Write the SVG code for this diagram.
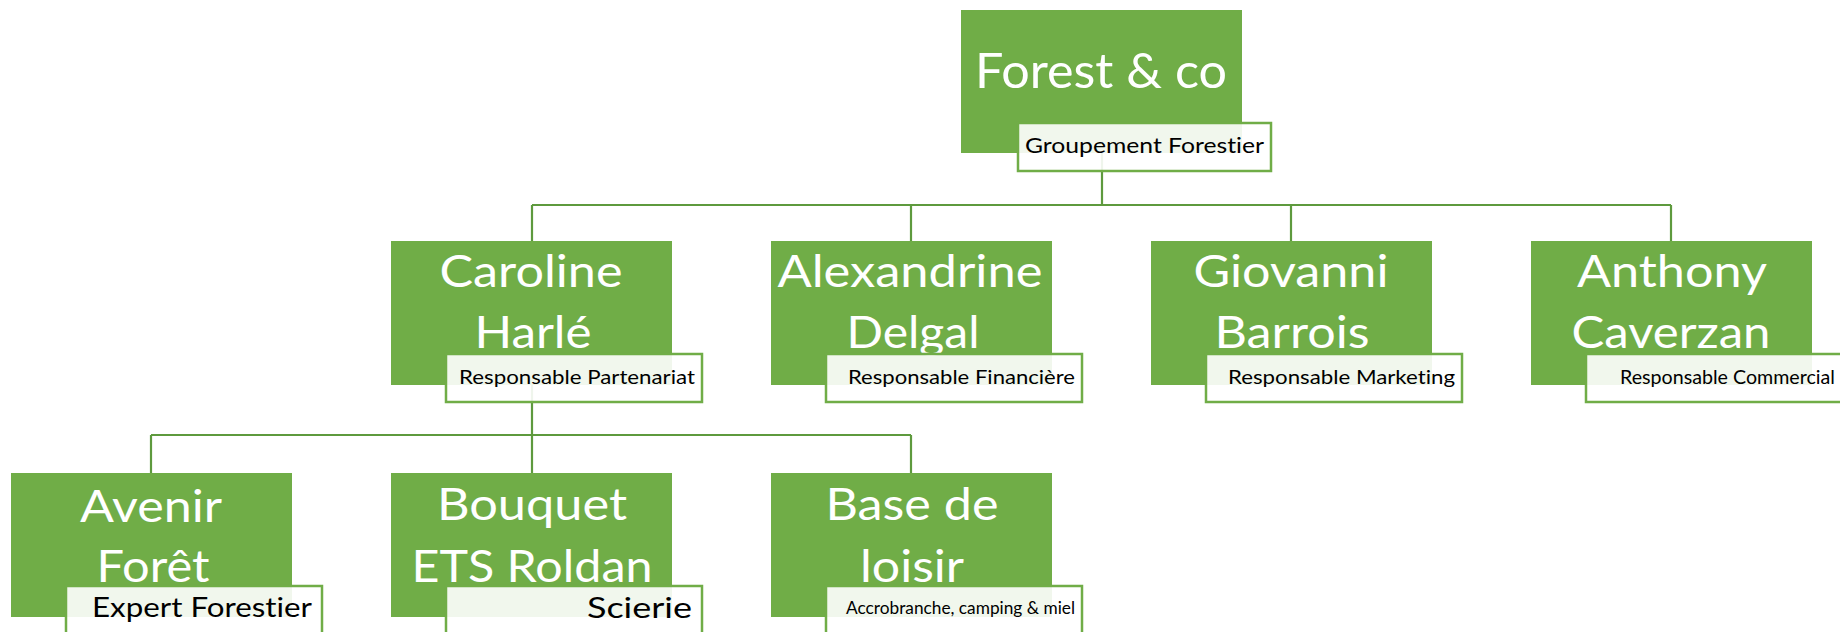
<svg xmlns="http://www.w3.org/2000/svg" width="1840" height="632" viewBox="0 0 1840 632">
<style>
.box{fill:#70AD47;}
.sub{fill:#FFFFFF;fill-opacity:0.9;stroke:#70AD47;stroke-width:2.5;}
.name{font-family:Lato,"Liberation Sans",sans-serif;fill:#FFFFFF;font-size:45px;text-anchor:middle;font-variant-ligatures:none;}
.top{font-size:49px;}
.role{font-family:Lato,"Liberation Sans",sans-serif;fill:#000000;font-size:20px;font-variant-ligatures:none;}
.conn{fill:none;stroke:#5E9A3E;stroke-width:2.2;}
</style>
<rect width="1840" height="632" fill="#FFFFFF"/>
<g id="connectors">
<path class="conn" d="M1102,153 V205 M532,205 H1671 M532,205 V241 M911,205 V241 M1291,205 V241 M1671,205 V241"/>
<path class="conn" d="M532,385 V435 M151,435 H911 M151,435 V473 M532,435 V473 M911,435 V473"/>
</g>
<g id="forest">
<rect class="box" x="961" y="10" width="281" height="143"/>
<text class="name top" x="1101" y="88" textLength="252" lengthAdjust="spacingAndGlyphs">Forest &amp; co</text>
<rect class="sub" x="1018" y="123" width="253" height="48"/>
<text class="role" x="1025" y="153" style="font-size:21px" textLength="239" lengthAdjust="spacingAndGlyphs">Groupement Forestier</text>
</g>
<g id="caroline">
<rect class="box" x="391" y="241" width="281" height="144"/>
<text class="name" x="531" y="287" textLength="183" lengthAdjust="spacingAndGlyphs">Caroline</text>
<text class="name" x="533" y="348" textLength="117" lengthAdjust="spacingAndGlyphs">Harlé</text>
<rect class="sub" x="446" y="354" width="256" height="48"/>
<text class="role" x="459" y="384" textLength="236" lengthAdjust="spacingAndGlyphs">Responsable Partenariat</text>
</g>
<g id="alexandrine">
<rect class="box" x="771" y="241" width="281" height="144"/>
<text class="name" x="910" y="287" textLength="265" lengthAdjust="spacingAndGlyphs">Alexandrine</text>
<text class="name" x="913" y="348" textLength="133" lengthAdjust="spacingAndGlyphs">Delgal</text>
<rect class="sub" x="826" y="354" width="256" height="48"/>
<text class="role" x="848" y="384" textLength="227" lengthAdjust="spacingAndGlyphs">Responsable Financière</text>
</g>
<g id="giovanni">
<rect class="box" x="1151" y="241" width="281" height="144"/>
<text class="name" x="1291" y="287" textLength="195" lengthAdjust="spacingAndGlyphs">Giovanni</text>
<text class="name" x="1292" y="348" textLength="155" lengthAdjust="spacingAndGlyphs">Barrois</text>
<rect class="sub" x="1206" y="354" width="256" height="48"/>
<text class="role" x="1228" y="384" textLength="227" lengthAdjust="spacingAndGlyphs">Responsable Marketing</text>
</g>
<g id="anthony">
<rect class="box" x="1531" y="241" width="281" height="144"/>
<text class="name" x="1672" y="287" textLength="190" lengthAdjust="spacingAndGlyphs">Anthony</text>
<text class="name" x="1671" y="348" textLength="199" lengthAdjust="spacingAndGlyphs">Caverzan</text>
<rect class="sub" x="1586" y="354" width="270" height="48"/>
<text class="role" x="1620" y="384" textLength="215" lengthAdjust="spacingAndGlyphs">Responsable Commercial</text>
</g>
<g id="avenir">
<rect class="box" x="11" y="473" width="281" height="144"/>
<text class="name" x="151" y="522" textLength="142" lengthAdjust="spacingAndGlyphs">Avenir</text>
<text class="name" x="153" y="582" textLength="113" lengthAdjust="spacingAndGlyphs">Forêt</text>
<rect class="sub" x="66" y="586" width="256" height="60"/>
<text class="role" x="92" y="617" style="font-size:27px" textLength="220" lengthAdjust="spacingAndGlyphs">Expert Forestier</text>
</g>
<g id="bouquet">
<rect class="box" x="391" y="473" width="281" height="144"/>
<text class="name" x="532" y="520" textLength="190" lengthAdjust="spacingAndGlyphs">Bouquet</text>
<text class="name" x="532" y="582" textLength="241" lengthAdjust="spacingAndGlyphs">ETS Roldan</text>
<rect class="sub" x="446" y="586" width="256" height="60"/>
<text class="role" x="587" y="618" style="font-size:29px" textLength="105" lengthAdjust="spacingAndGlyphs">Scierie</text>
</g>
<g id="base">
<rect class="box" x="771" y="473" width="281" height="144"/>
<text class="name" x="912" y="520" textLength="173" lengthAdjust="spacingAndGlyphs">Base de</text>
<text class="name" x="912" y="582" textLength="104" lengthAdjust="spacingAndGlyphs">loisir</text>
<rect class="sub" x="826" y="586" width="256" height="60"/>
<text class="role" x="846" y="614" style="font-size:17px" textLength="229" lengthAdjust="spacingAndGlyphs">Accrobranche, camping &amp; miel</text>
</g>
</svg>
